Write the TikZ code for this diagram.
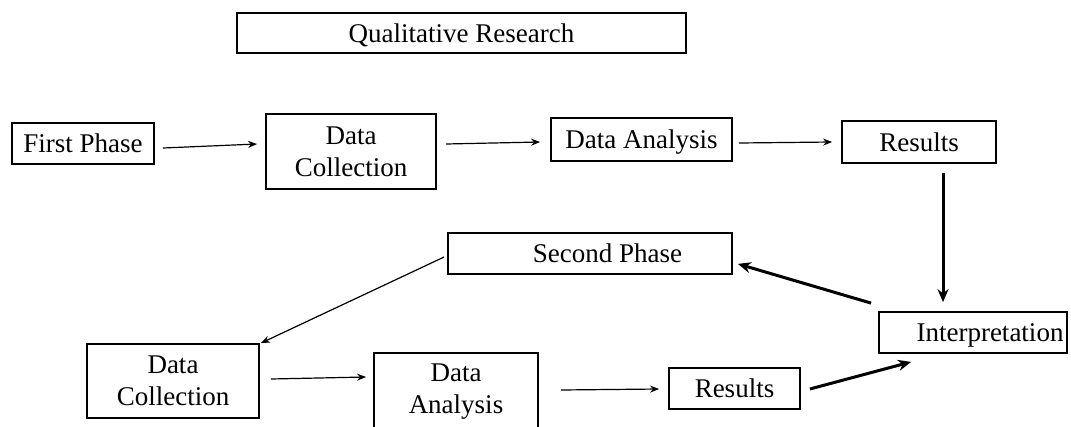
\documentclass[tikz,border=0pt]{standalone}
\usepackage{fontspec}
\setmainfont{Liberation Serif}
\usetikzlibrary{arrows.meta}
\begin{document}
\begin{tikzpicture}[x=1pt,y=-1pt,
  box/.style={draw, line width=1.8pt, inner sep=0pt, font=\fontsize{27}{32}\selectfont, align=center},
  one/.style={text depth=0pt},
  thinarrow/.style={line width=1.2pt, -{Stealth[length=9pt,width=7pt]}},
  thickarrow/.style={line width=3pt, -{Stealth[length=13pt,width=11pt]}}
]
\useasboundingbox (0,0) rectangle (1071,426);
\node[box,one,minimum width=449pt,minimum height=40pt] (qr) at (461.5,33) {Qualitative Research};
\node[box,one,minimum width=142pt,minimum height=41pt] (fp) at (83,143.5) {First Phase};
\node[box,minimum width=170pt,minimum height=75pt] (dc1) at (351,151.5) {Data\\Collection};
\node[box,one,minimum width=181pt,minimum height=43pt] (da1) at (641.5,139.5) {Data Analysis};
\node[box,one,minimum width=154pt,minimum height=42pt] (r1) at (919,142) {Results};
\node[box,one,minimum width=284pt,minimum height=41pt] (sp) at (590,253.5) {\hspace*{35pt}Second Phase};
\node[box,one,minimum width=188pt,minimum height=41pt] (int) at (973,332.5) {\hspace*{34pt}Interpretation};
\node[box,minimum width=172pt,minimum height=74pt] (dc2) at (173,381) {Data\\Collection};
\node[box,minimum width=164pt,minimum height=78pt] (da2) at (456,392) {Data\\Analysis};
\node[box,one,minimum width=131pt,minimum height=41pt] (r2) at (734.5,388.5) {Results};

\draw[thinarrow] ([shift={(8,4.5)}]fp.east) -- ([shift={(-8,-7.5)}]dc1.west);
\draw[thinarrow] ([shift={(9,-7.5)}]dc1.east) -- ([shift={(-10,2.5)}]da1.west);
\draw[thinarrow] ([shift={(6,3.5)}]da1.east) -- ([shift={(-9,0)}]r1.west);
\draw[thickarrow] ([shift={(24,9)}]r1.south) -- ([shift={(-30,-9)}]int.north);
\draw[thickarrow] ([shift={(-7,-8)}]int.north west) -- ([shift={(5,-11)}]sp.south east);
\draw[thinarrow] ([shift={(-3,3.5)}]sp.west) -- ([shift={(1,0)}]dc2.north east);
\draw[thinarrow] ([shift={(11,-2)}]dc2.east) -- ([shift={(-7,-15)}]da2.west);
\draw[thinarrow] ([shift={(22,-2)}]da2.east) -- ([shift={(-9,0.5)}]r2.west);
\draw[thickarrow] ([shift={(9,0.5)}]r2.east) -- ([shift={(33,8)}]int.south west);
\end{tikzpicture}
\end{document}
